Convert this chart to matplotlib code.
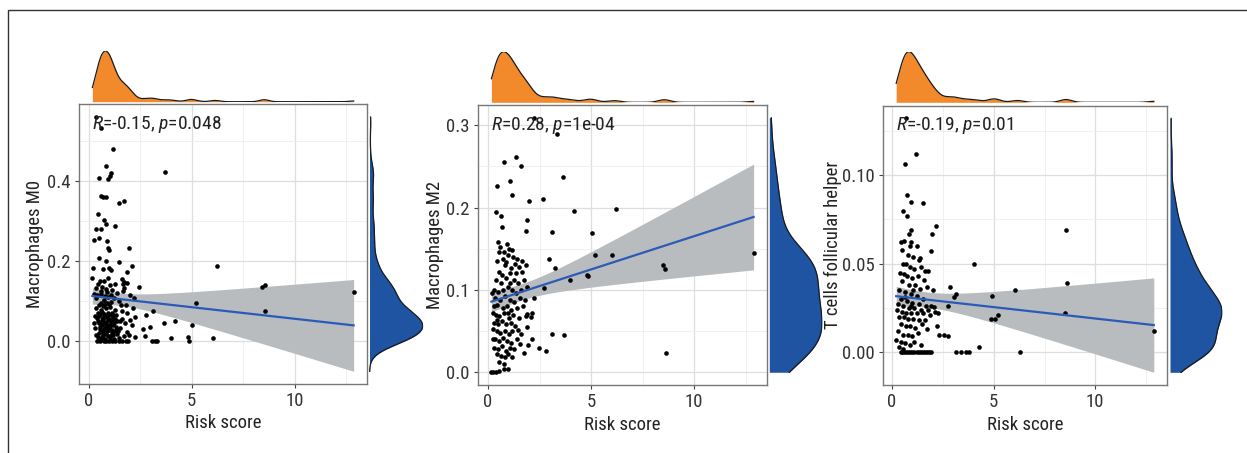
import numpy as np
import matplotlib
matplotlib.use("Agg")
import matplotlib.pyplot as plt
from matplotlib import font_manager
from matplotlib.patches import Rectangle
import matplotlib.transforms as mtransforms

# pick a condensed face if one is installed, the reference uses a narrow font
names = {f.name for f in font_manager.fontManager.ttflist}
narrow = [n for n in ['Liberation Sans Narrow', 'Roboto Condensed', 'DejaVu Sans Condensed',
                      'Open Sans Condensed', 'Noto Sans Condensed'] if n in names]
cond_dejavu = any(f.name == 'DejaVu Sans' and str(f.stretch) in ('condensed', '300', '87.5')
                  for f in font_manager.fontManager.ttflist)
if narrow:
    FONT, FS = narrow[0], 13.5
elif cond_dejavu:
    FONT, FS = 'DejaVu Sans', 12.5
    plt.rcParams['font.stretch'] = 'condensed'
else:
    FONT, FS = 'Roboto', 12
plt.rcParams['font.family'] = [FONT, 'DejaVu Sans']
plt.rcParams['mathtext.fontset'] = 'custom'
plt.rcParams['mathtext.rm'] = FONT
plt.rcParams['mathtext.it'] = FONT + ':italic'

# ---- data ----
m0_x = [0.37, 0.6, 1.18, 0.85, 1.08, 1.03, 0.95, 0.5, 3.73,
        0.62, 0.72, 0.82, 1.48, 1.73, 0.47, 0.73, 1.26, 0.84,
        0.24, 0.37, 0.6, 0.5, 0.9, 0.93, 0.97, 1.94,
        0.52, 0.85, 1.47, 0.21, 0.7, 1.0, 1.08, 2.1, 1.87, 6.23,
        0.18, 1.63, 1.74, 1.68, 2.45, 8.44, 8.58, 12.87, 5.21,
        3.11, 8.55, 2.79, 3.66, 4.19, 5.03, 2.97, 2.66, 2.24, 2.73,
        3.08, 3.23, 3.32, 3.98, 4.84, 4.89, 6.02,
        0.56, 0.45, 0.74, 0.92, 0.34, 0.66, 1.02, 1.29, 1.15, 0.27, 0.87, 1.37, 1.66, 1.73, 1.85,
        2.02, 2.19, 0.37, 0.73, 0.95, 1.23, 1.47, 1.82, 2.13, 0.34, 0.61, 0.85, 1.05, 1.29, 1.60,
        1.85, 2.24, 0.40, 0.69, 0.89, 1.13, 1.40, 1.77, 2.02, 0.31, 0.56, 0.81, 1.02, 1.26, 1.53,
        1.85, 2.10, 0.37, 0.65, 0.92, 1.18, 1.47, 1.73, 1.97, 0.40, 0.56, 0.73, 0.85, 0.97, 1.13,
        1.29, 1.45, 1.61, 1.82, 1.89,
        0.50, 0.60, 0.70, 0.80, 0.90, 1.00, 1.10, 0.45, 0.55, 0.65, 0.75, 0.95, 1.05, 1.15, 1.35,
        0.50, 0.60, 0.75, 0.95, 1.08, 1.20, 1.32, 0.48, 0.70, 0.88, 1.12, 1.38, 0.62, 0.78, 1.05,
        1.22, 0.42, 0.58, 0.78, 1.08, 0.33, 0.28, 0.80, 1.62, 1.55, 0.82, 0.62,
        0.44, 0.54, 0.64, 0.76, 0.86, 0.98, 1.1, 1.24, 1.36, 1.5, 0.52, 0.68, 0.82, 0.94,
        1.06, 1.18, 1.3, 0.58, 0.72, 0.9, 1.02, 1.14, 1.42, 0.46, 0.66, 0.84, 1.0, 1.2]
m0_y = [0.559, 0.532, 0.48, 0.436, 0.42, 0.413, 0.405, 0.408, 0.423,
        0.362, 0.36, 0.359, 0.344, 0.349, 0.316, 0.302, 0.287, 0.293,
        0.252, 0.279, 0.279, 0.256, 0.25, 0.233, 0.226, 0.231,
        0.207, 0.2, 0.198, 0.182, 0.18, 0.182, 0.178, 0.187, 0.171, 0.187,
        0.157, 0.155, 0.148, 0.142, 0.134, 0.135, 0.139, 0.122, 0.095,
        0.074, 0.074, 0.065, 0.046, 0.049, 0.04, 0.036, 0.03, 0.01, 0.012,
        0.0, 0.0, 0.001, 0.007, 0.01, 0.0, 0.008,
        0.149, 0.143, 0.151, 0.156, 0.132, 0.136, 0.141, 0.142, 0.128, 0.118, 0.122, 0.12, 0.124, 0.132, 0.145,
        0.115, 0.107, 0.107, 0.103, 0.109, 0.107, 0.099, 0.09, 0.082, 0.082, 0.078, 0.082, 0.086, 0.078, 0.074,
        0.069, 0.061, 0.057, 0.055, 0.059, 0.053, 0.049, 0.044, 0.053, 0.032, 0.03, 0.033, 0.028, 0.025, 0.032,
        0.023, 0.04, 0.015, 0.011, 0.013, 0.015, 0.008, 0.013, 0.015, 0.0, 0.0, 0.0, 0.0, 0.0, 0.0,
        0.0, 0.0, 0.0, 0.0, 0.0,
        0.09, 0.094, 0.088, 0.092, 0.096, 0.092, 0.098, 0.07, 0.066, 0.072, 0.068, 0.07, 0.064, 0.07, 0.066,
        0.045, 0.042, 0.046, 0.04, 0.045, 0.04, 0.036, 0.02, 0.022, 0.024, 0.02, 0.018, 0.006, 0.005, 0.007,
        0.004, 0.115, 0.118, 0.112, 0.116, 0.062, 0.044, 0.062, 0.056, 0.09, 0.13, 0.125,
        0.05, 0.036, 0.052, 0.03, 0.048, 0.034, 0.052, 0.046, 0.03, 0.05, 0.062, 0.058, 0.04, 0.056,
        0.038, 0.06, 0.054, 0.026, 0.015, 0.03, 0.012, 0.028, 0.024, 0.01, 0.04, 0.018, 0.052, 0.064]

m2_x = [2.21, 3.34, 1.37, 0.78, 1.6, 0.42, 1.08, 1.16, 3.65, 1.99, 2.65, 0.37, 0.61, 4.18, 6.22,
        0.68, 1.87, 1.86, 3.09, 5.02, 2.96, 5.17, 6.01, 3.26, 8.47, 8.56, 12.88, 3.96, 4.8, 4.86,
        2.71, 2.25, 1.89, 2.13, 2.08, 1.91, 1.45, 3.12, 3.7, 2.15, 1.92, 1.57, 2.46, 2.81, 1.74,
        8.61, 0.79, 0.95, 0.16, 0.24, 0.37, 0.52,
        0.5, 0.6, 0.55, 0.9, 1.0, 0.95, 1.2, 1.4, 1.3, 1.62, 1.85, 0.45, 0.7, 0.8, 1.1, 1.5, 1.05,
        0.85, 0.65, 0.4, 1.25, 1.45, 1.72, 1.9, 0.3, 0.5, 0.72, 0.95, 1.15, 1.35, 1.6, 0.35, 0.6,
        0.82, 1.05, 1.28, 1.55, 1.8, 0.28, 0.45, 0.7, 0.9, 1.12, 1.4, 1.68, 0.38, 0.55, 0.78, 1.0,
        1.22, 1.5, 1.85, 0.3, 0.48, 0.65, 0.88, 1.1, 1.32, 0.25, 0.42, 0.6, 0.8, 1.0, 1.18, 1.6,
        0.35, 0.55, 0.72, 0.92, 1.12, 1.38, 0.3, 0.5, 0.68, 0.85, 1.05, 1.25, 0.45, 0.62, 0.8,
        0.98, 1.15, 0.55, 0.75, 0.2, 0.22, 0.24, 0.62, 0.88, 1.18, 0.76, 1.35, 1.65, 1.08, 0.52,
        0.98, 0.42]
m2_y = [0.309, 0.289, 0.261, 0.255, 0.25, 0.226, 0.232, 0.215, 0.237, 0.208, 0.21, 0.194, 0.19, 0.196, 0.198,
        0.176, 0.185, 0.172, 0.17, 0.169, 0.138, 0.142, 0.142, 0.126, 0.13, 0.125, 0.145, 0.112, 0.118, 0.117,
        0.102, 0.09, 0.071, 0.072, 0.067, 0.055, 0.051, 0.047, 0.045, 0.04, 0.033, 0.034, 0.03, 0.026, 0.023,
        0.024, 0.004, 0.004, 0.0, 0.0, 0.0, 0.002,
        0.158, 0.152, 0.146, 0.156, 0.15, 0.142, 0.14, 0.138, 0.132, 0.135, 0.13, 0.135, 0.138, 0.13, 0.126, 0.128, 0.12,
        0.115, 0.118, 0.112, 0.112, 0.108, 0.112, 0.104, 0.1, 0.098, 0.1, 0.104, 0.1, 0.096, 0.1, 0.09, 0.088,
        0.092, 0.088, 0.085, 0.09, 0.088, 0.08, 0.082, 0.078, 0.08, 0.076, 0.078, 0.08, 0.07, 0.068, 0.072, 0.066,
        0.07, 0.066, 0.068, 0.06, 0.058, 0.062, 0.058, 0.06, 0.056, 0.052, 0.05, 0.048, 0.05, 0.046, 0.05, 0.046,
        0.04, 0.038, 0.042, 0.038, 0.036, 0.04, 0.03, 0.028, 0.032, 0.026, 0.03, 0.028, 0.022, 0.02, 0.018,
        0.022, 0.018, 0.012, 0.01, 0.096, 0.072, 0.04, 0.108, 0.134, 0.148, 0.146, 0.12, 0.122, 0.108, 0.122,
        0.072, 0.064]

tfh_x = [0.7, 1.17, 0.62, 0.72, 0.91, 1.53, 0.55, 0.75, 2.17, 1.97, 0.85, 0.91, 8.55, 1.91, 4.02,
         1.38, 1.76, 2.85, 8.62, 1.99, 3.14, 3.05, 4.93, 6.07, 2.77, 8.49, 12.88, 5.21, 4.89, 5.08,
         2.33, 2.54, 2.74, 4.27, 6.27, 3.14, 3.39, 3.65, 3.76, 2.21, 2.12, 2.26, 2.04,
         0.45, 0.6, 0.95, 1.2, 0.5, 0.8, 1.05, 1.3, 0.55, 0.7, 0.9, 1.1, 1.4, 1.6, 0.4, 0.6, 0.75,
         1.0, 1.25, 1.55, 0.5, 0.85, 1.15, 1.35, 1.7, 0.35, 0.65, 0.95, 1.2, 1.5, 0.45, 0.75, 1.0,
         1.3, 1.65, 1.9, 0.3, 0.55, 0.85, 1.1, 1.4, 1.75, 0.25, 0.5, 0.7, 0.95, 1.2, 1.5, 1.85,
         0.35, 0.6, 0.8, 1.05, 1.3, 1.6, 0.45, 0.7, 0.9, 1.15, 1.45, 1.7, 0.3, 0.55, 0.8, 1.0,
         1.25, 0.2, 0.45, 0.65, 0.9, 1.1, 1.4, 0.35, 0.55, 0.5, 0.6, 0.7, 0.8, 0.9, 1.0, 1.1,
         1.2, 1.3, 1.4, 1.5, 1.6, 1.7, 1.8, 1.9, 0.45, 0.95, 0.62, 1.05, 0.88]
tfh_y = [0.132, 0.112, 0.106, 0.089, 0.085, 0.084, 0.08, 0.077, 0.071, 0.067, 0.067, 0.069, 0.069, 0.057, 0.05,
         0.053, 0.046, 0.037, 0.039, 0.035, 0.033, 0.031, 0.032, 0.035, 0.026, 0.022, 0.012, 0.021, 0.019, 0.019,
         0.01, 0.01, 0.009, 0.003, 0.0, 0.0, 0.0, 0.0, 0.0, 0.015, 0.023, 0.022, 0.0255,
         0.062, 0.063, 0.062, 0.06, 0.058, 0.055, 0.054, 0.052, 0.05, 0.05, 0.048, 0.047, 0.048, 0.046, 0.045, 0.044, 0.043,
         0.042, 0.043, 0.041, 0.04, 0.038, 0.038, 0.036, 0.037, 0.035, 0.034, 0.033, 0.032, 0.03, 0.03, 0.029, 0.028,
         0.027, 0.026, 0.026, 0.027, 0.026, 0.025, 0.025, 0.024, 0.024, 0.024, 0.023, 0.022, 0.022, 0.022, 0.022, 0.021,
         0.02, 0.02, 0.019, 0.019, 0.018, 0.018, 0.016, 0.015, 0.015, 0.014, 0.016, 0.013, 0.012, 0.01, 0.01, 0.009,
         0.011, 0.007, 0.006, 0.005, 0.004, 0.006, 0.004, 0.003, 0.002, 0.0, 0.0, 0.0, 0.0, 0.0, 0.0, 0.0,
         0.0, 0.0, 0.0, 0.0, 0.0, 0.0, 0.0, 0.0, 0.0, 0.026, 0.031, 0.035, 0.06]

xs_all = [m0_x, m2_x, tfh_x]
ys_all = [m0_y, m2_y, tfh_y]
ylabels = ['Macrophages M0', 'Macrophages M2', 'T cells follicular helper']
stats = [r'$\mathit{R}$=-0.15, $\mathit{p}$=0.048', r'$\mathit{R}$=0.28, $\mathit{p}$=1e-04',
         r'$\mathit{R}$=-0.19, $\mathit{p}$=0.01']
yticks = [[0.0, 0.2, 0.4], [0.0, 0.1, 0.2, 0.3], [0.00, 0.05, 0.10]]
yminor = [[0.1, 0.3, 0.5], [0.05, 0.15, 0.25], [0.025, 0.075, 0.125]]
yfmt = ['{:.1f}', '{:.1f}', '{:.2f}']

# pixel boxes (left, top, right, bottom) for main, top marginal, right marginal
main_px = [(79.3, 104.3, 366.7, 384), (478.3, 105, 766.7, 385), (883.3, 105.7, 1166.7, 385)]
top_px = [(79.3, 51, 366.7, 101.7), (478.3, 51.7, 766.7, 102.3), (883.3, 51.7, 1166.7, 102.3)]
right_px = [(369.5, 104.3, 422.7, 384), (769.3, 105, 822, 385), (1170, 105.7, 1222, 385)]
ylab_x = [35, 435, 833]

ORANGE = '#F28A2B'
BLUE = '#1F54A3'
LINE = '#2B5BB8'
BAND = '#B9BCBE'

W, H = 1247, 453
fig = plt.figure(figsize=(W / 100, H / 100), dpi=100)


def px_axes(box):
    l, t, r, b = box
    return fig.add_axes([l / W, 1 - b / H, (r - l) / W, (b - t) / H])


def kde(v, grid):
    n = len(v)
    sd = v.std(ddof=1)
    q75, q25 = np.percentile(v, [75, 25])
    bw = 0.9 * min(sd, (q75 - q25) / 1.34) * n ** -0.2
    z = (grid[:, None] - v[None, :]) / bw
    return np.exp(-0.5 * z ** 2).sum(1) / (n * bw * np.sqrt(2 * np.pi))


# outer frame of the figure
fig.add_artist(Rectangle((8 / W, -0.1), 1.2, 1 - 10 / H + 0.1, transform=fig.transFigure,
                         fill=False, lw=1, ec='#333333'))

for i in range(3):
    x = np.array(xs_all[i])
    y = np.array(ys_all[i])
    n = len(x)

    # linear fit with 95% band
    b1, b0 = np.polyfit(x, y, 1)
    gx = np.linspace(x.min(), x.max(), 80)
    fit = b0 + b1 * gx
    s = np.sqrt(np.sum((y - (b0 + b1 * x)) ** 2) / (n - 2))
    se = s * np.sqrt(1 / n + (gx - x.mean()) ** 2 / np.sum((x - x.mean()) ** 2))
    lo, hi = fit - 1.97 * se, fit + 1.97 * se

    xmin, xmax = x.min(), x.max()
    ymin, ymax = min(y.min(), lo.min()), max(y.max(), hi.max())
    xpad, ypad = 0.05 * (xmax - xmin), 0.05 * (ymax - ymin)

    ax = px_axes(main_px[i])
    ax.set_xlim(xmin - xpad, xmax + xpad)
    ax.set_ylim(ymin - ypad, ymax + ypad)
    ax.set_xticks([0, 5, 10])
    ax.set_xticks([2.5, 7.5, 12.5], minor=True)
    ax.set_yticks(yticks[i])
    ax.set_yticklabels([yfmt[i].format(v) for v in yticks[i]])
    ax.set_yticks(yminor[i], minor=True)
    ax.grid(True, which='major', color='#DEDEDE', lw=0.9)
    ax.grid(True, which='minor', color='#EEEEEE', lw=0.6)
    ax.set_axisbelow(True)
    ax.tick_params(which='major', length=3, color='#444444', labelsize=FS, labelcolor='#333333', pad=3)
    ax.tick_params(which='minor', length=0)
    for sp in ax.spines.values():
        sp.set_color('#777777')
        sp.set_linewidth(1)

    ax.fill_between(gx, lo, hi, color=BAND, lw=0, zorder=1)
    ax.scatter(x, y, s=11, color='black', lw=0, zorder=2)
    ax.plot(gx, fit, color=LINE, lw=1.6, zorder=3)

    trans = mtransforms.blended_transform_factory(ax.transData, ax.transAxes)
    ax.text(xmin, 0.965, stats[i], transform=trans, ha='left', va='top', fontsize=FS + 0.5,
            color='#222222', zorder=4)

    ax.set_xlabel('Risk score', fontsize=FS, color='#222222', labelpad=3)
    ax.set_ylabel(ylabels[i], fontsize=FS, color='#222222', va='center')
    ax.yaxis.set_label_coords((ylab_x[i] - main_px[i][0]) / (main_px[i][2] - main_px[i][0]), 0.5)

    # top marginal density of x
    axt = px_axes(top_px[i])
    gxx = np.linspace(xmin, xmax, 512)
    dx = kde(x, gxx)
    axt.fill_between(gxx, 0, dx, color=ORANGE, lw=0)
    axt.plot(gxx, dx, color='#1a1a1a', lw=0.9)
    axt.set_xlim(ax.get_xlim())
    axt.set_ylim(0, dx.max())
    axt.axis('off')

    # right marginal density of y
    axr = px_axes(right_px[i])
    gyy = np.linspace(ymin, ymax, 512)
    dy = kde(y, gyy)
    axr.fill_betweenx(gyy, 0, dy, color=BLUE, lw=0)
    axr.plot(dy, gyy, color='#1a1a1a', lw=0.9)
    axr.set_ylim(ax.get_ylim())
    axr.set_xlim(0, dy.max())
    axr.axis('off')

fig.savefig('out.png', dpi=100)
